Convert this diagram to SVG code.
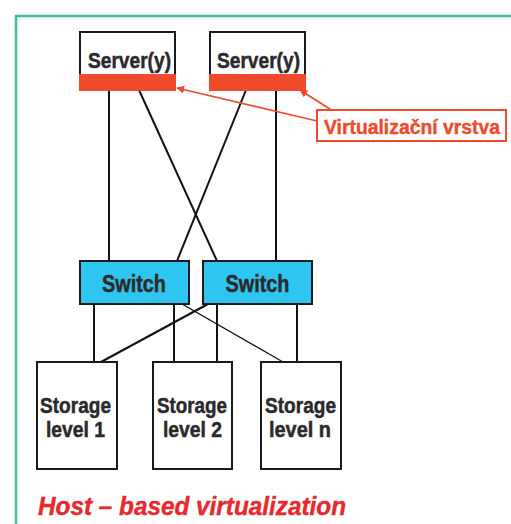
<svg xmlns="http://www.w3.org/2000/svg" width="511" height="524" viewBox="0 0 511 524">
  <defs>
    <style>
      .box { fill: #ffffff; stroke: #1a1a1a; stroke-width: 2; }
      .band { fill: #f04a2c; }
      .sw { fill: #2ec6f0; stroke: #1a1a1a; stroke-width: 2; }
      .lbl { font-family: "Liberation Sans", Arial, sans-serif; font-weight: bold; fill: #2a2a2a; stroke: #2a2a2a; stroke-width: 0.5; text-anchor: middle; }
      .wire { stroke: #111111; stroke-width: 2; fill: none; }
      .thin { stroke: #111111; stroke-width: 1.3; fill: none; }
      .callout { stroke: #f04a2c; stroke-width: 1.6; fill: none; }
    </style>
    <marker id="tip" viewBox="0 0 10 10" refX="9" refY="5" markerWidth="8" markerHeight="8" markerUnits="userSpaceOnUse" orient="auto">
      <path d="M0,0 L10,5 L0,10 z" fill="#f04a2c"/>
    </marker>
  </defs>

  <rect width="511" height="524" fill="#ffffff"/>

  <!-- frame -->
  <path d="M16,524 V16 H511" fill="none" stroke="#33c3a1" stroke-width="2.5"/>

  <!-- connectors -->
  <g id="connectors">
    <line class="wire" x1="109" y1="90" x2="109" y2="261"/>
    <line class="wire" x1="139" y1="90" x2="217" y2="261"/>
    <line class="wire" x1="246" y1="90" x2="177" y2="261"/>
    <line class="wire" x1="276" y1="90" x2="276" y2="261"/>
    <line class="wire" x1="94" y1="304" x2="94" y2="362"/>
    <line class="wire" x1="174" y1="304" x2="174" y2="362"/>
    <line class="wire" x1="217" y1="304" x2="217" y2="362"/>
    <line class="wire" x1="297" y1="304" x2="297" y2="362"/>
    <line class="wire" x1="208" y1="304" x2="101" y2="362"/>
    <line class="thin" x1="182" y1="304" x2="283" y2="362"/>
    <line class="callout" x1="317" y1="121" x2="177" y2="88" marker-end="url(#tip)"/>
    <line class="callout" x1="333" y1="111" x2="300" y2="90" marker-end="url(#tip)"/>
  </g>

  <!-- servers -->
  <g id="server1">
    <rect class="box" x="80" y="32" width="95" height="58"/>
    <rect class="band" x="79" y="74" width="97" height="17"/>
    <text class="lbl" x="129.5" y="68" font-size="22" textLength="83" lengthAdjust="spacingAndGlyphs">Server(y)</text>
  </g>
  <g id="server2">
    <rect class="box" x="210" y="32" width="95" height="58"/>
    <rect class="band" x="209" y="74" width="97" height="17"/>
    <text class="lbl" x="258.5" y="68" font-size="22" textLength="83" lengthAdjust="spacingAndGlyphs">Server(y)</text>
  </g>

  <!-- virtualization layer callout -->
  <g id="callout">
    <rect x="317" y="110" width="189" height="31" fill="#ffffff" stroke="#f04a2c" stroke-width="2"/>
    <text x="412" y="133.5" font-family="Liberation Sans, Arial, sans-serif" font-weight="bold" font-size="20" fill="#f04a2c" stroke="#f04a2c" stroke-width="0.4" text-anchor="middle" textLength="176" lengthAdjust="spacingAndGlyphs">Virtualizační vrstva</text>
  </g>

  <!-- switches -->
  <g id="switch1">
    <rect class="sw" x="80" y="261" width="109" height="43"/>
    <text class="lbl" x="134" y="292" font-size="23" textLength="64" lengthAdjust="spacingAndGlyphs">Switch</text>
  </g>
  <g id="switch2">
    <rect class="sw" x="203" y="261" width="109" height="43"/>
    <text class="lbl" x="257.5" y="292" font-size="23" textLength="64" lengthAdjust="spacingAndGlyphs">Switch</text>
  </g>

  <!-- storage -->
  <g id="storage1">
    <rect class="box" x="37" y="362" width="80" height="107"/>
    <text class="lbl" x="75.5" y="413" font-size="22" textLength="71" lengthAdjust="spacingAndGlyphs">Storage</text>
    <text class="lbl" x="75.5" y="437" font-size="22" textLength="59" lengthAdjust="spacingAndGlyphs">level 1</text>
  </g>
  <g id="storage2">
    <rect class="box" x="153" y="362" width="79" height="107"/>
    <text class="lbl" x="192" y="413" font-size="22" textLength="70" lengthAdjust="spacingAndGlyphs">Storage</text>
    <text class="lbl" x="192.5" y="437" font-size="22" textLength="59" lengthAdjust="spacingAndGlyphs">level 2</text>
  </g>
  <g id="storagen">
    <rect class="box" x="261" y="362" width="80" height="107"/>
    <text class="lbl" x="300.5" y="413" font-size="22" textLength="71" lengthAdjust="spacingAndGlyphs">Storage</text>
    <text class="lbl" x="300" y="437" font-size="22" textLength="62" lengthAdjust="spacingAndGlyphs">level n</text>
  </g>

  <!-- caption -->
  <text x="38" y="515" font-family="Liberation Sans, Arial, sans-serif" font-weight="bold" font-style="italic" font-size="25" fill="#e8282b" stroke="#e8282b" stroke-width="0.4" textLength="308" lengthAdjust="spacingAndGlyphs">Host – based virtualization</text>
</svg>
